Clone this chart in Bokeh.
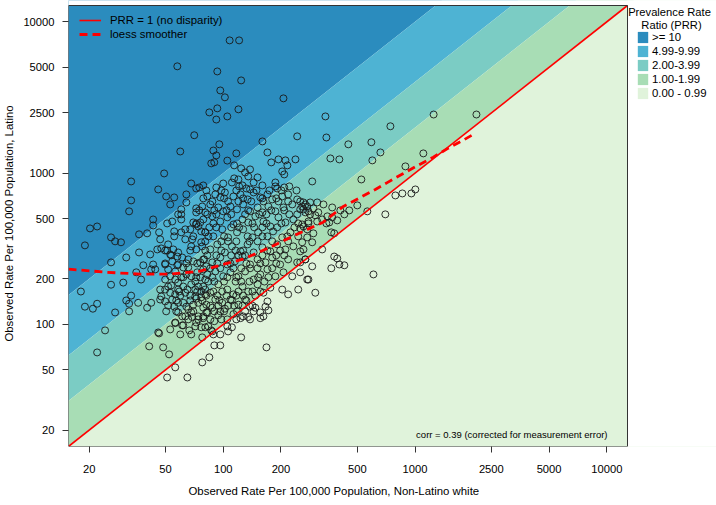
import math
from bokeh.plotting import figure
from bokeh.models import (Range1d, FixedTicker, NumeralTickFormatter, Legend,
                          LegendItem, Label, Title, BoxAnnotation)
from bokeh.embed import file_html
from bokeh.resources import INLINE

FONT = "Liberation Sans"

axis_min = 15.6
axis_max = 12820
tick_values = [20, 50, 100, 200, 500, 1000, 2500, 5000, 10000]

band_labels = [">= 10", "4.99-9.99", "2.00-3.99", "1.00-1.99", "0.00 - 0.99"]
band_ratio_low = [10, 4, 2, 1, 0.000001]
band_ratio_high = [1000000, 10, 4, 2, 1]
band_colors = ["#2b8cbe", "#4eb3d3", "#7bccc4", "#a8ddb5", "#e0f3db"]

rate_white = [
    108, 121, 57.6, 93.1, 124, 96.5, 102, 93.1, 84.6, 120, 92.0, 105, 70.6, 160, 95.4, 59.7,
    88.8, 92.0, 117, 105, 86.6, 89.8, 170, 114, 49.2, 33.1, 68.1, 78.7, 100, 72.3, 92.0, 124,
    138, 130, 135, 151, 120, 114, 144, 126, 121, 160, 132,
    206, 341, 243, 345, 744, 1250, 2090, 449, 592, 660, 1105, 891, 194, 211, 238, 178, 216,
    203, 208, 362, 403, 599, 291, 525, 187, 187, 221, 208, 1004,
    790, 859, 957, 700, 564, 500, 454, 428, 408, 370, 333, 309, 284, 268, 258, 262, 278, 295,
    268, 284, 302, 313, 349, 370, 357, 345, 393, 328, 309, 278, 262, 252, 295, 366, 379, 274,
    291, 258, 262, 328, 379, 393, 403, 428, 366, 268, 252, 291, 607, 278, 302,
    218, 170, 166, 172, 156, 162, 156, 127, 123, 124, 168, 89.8, 96.5, 84.6, 77.7, 111, 106,
    105, 96.5, 88.8, 87.7, 83.6, 89.8, 105, 113, 118, 96.5, 82.6, 77.7,
    50.4, 55.5, 33.1, 32.3, 64.2, 72.3, 72.3, 60.4, 60.4, 60.4, 80.6, 75.0, 43.1, 43.1, 51.0,
    20.2, 22.0, 40.1, 36.4, 46.3, 55.5, 55.5, 26.0, 27.3, 29.3, 19.0, 45.3, 47.5, 49.8, 51.0,
    52.9, 36.4, 31.2, 57.6, 53.5, 26.0, 43.1, 38.3, 58.2, 49.8, 42.1, 44.2, 57.6, 35.2, 30.1,
    26.0, 37.3, 18.1, 33.1, 19.0, 20.9, 22.0, 27.3, 31.2, 32.3, 32.3, 36.0, 40.1, 42.1, 24.2,
    22.0, 41.1, 46.3, 48.6, 52.2, 56.2, 51.0, 65.0, 52.9, 56.2, 61.1, 61.1, 66.5, 72.3, 68.9,
    86.6, 78.7, 45.8,
    46.9, 49.8, 51.6, 53.5, 52.9, 56.2, 58.2, 61.9, 63.4, 65.0, 68.1, 71.5, 74.1, 76.8, 80.6,
    67.3, 71.5, 76.8, 80.6, 46.9, 49.8, 51.6, 55.5, 58.2, 61.9, 64.2, 69.8, 74.1, 78.7, 81.6,
    58.2, 63.4, 68.1, 74.1, 78.7, 81.6, 56.2, 61.9, 65.7, 71.5, 76.8, 59.7, 68.1, 80.6, 73.2,
    78.7, 81.6, 68.1, 75.9, 80.6, 65.7, 69.8, 75.9, 79.6, 68.1, 72.3, 76.8, 68.9, 74.1, 76.8,
    80.6, 69.8, 72.3, 75.9, 60.4, 63.4, 51.6, 54.9, 58.2, 49.8, 52.9, 56.2, 60.4, 64.2, 51.6,
    56.2, 61.9, 47.5,
    111, 138, 191, 82.6, 90.9, 96.5, 102, 113, 123, 134, 144, 156, 170, 180, 203, 218, 243, 262,
    77.7, 85.6, 94.2, 100, 109, 118, 127, 138, 151, 160, 172, 187, 206, 229, 252, 274,
    78.7, 87.7, 96.5, 105, 113, 126, 135, 147, 162, 176, 194, 211, 232, 258, 278,
    80.6, 88.8, 98.8, 106, 118, 127, 142, 152, 170, 182, 203, 224, 246, 274,
    77.7, 85.6, 93.1, 102, 111, 123, 134, 144, 160, 176, 191, 211, 232, 252,
    78.7, 87.7, 96.5, 105, 115, 126, 138, 151, 166, 180, 198, 218, 243, 268,
    82.6, 90.9, 100, 109, 120, 130, 144, 156, 170, 187, 206, 229, 252,
    78.7, 85.6, 94.2, 105, 113, 126, 135, 151, 162, 176, 203, 246, 274,
    90.9, 98.8, 109, 120, 130, 138, 102, 87.7, 135, 147, 94.2,
    81.6, 97.7, 117, 149, 174, 201, 241,
    87.7, 106, 120, 140, 162, 194, 218, 252,
    82.6, 92.0, 110, 130, 154, 168, 221, 243,
    84.6, 92.0, 110, 121, 145, 160, 191, 235,
    80.6, 97.7, 106, 117, 137, 151, 180, 218,
    82.6, 92.0, 110, 120, 130, 160, 189, 208,
    85.6, 96.5, 113, 124, 138, 151, 180,
    83.6, 89.8, 101, 116, 124, 137, 164,
    81.6, 93.1, 104, 117, 127, 147,
    85.6, 94.2, 106, 114, 126, 142,
    54.2, 61.1, 65.7, 71.5, 59.7, 54.2, 65.7, 72.3, 50.4, 58.2,
    78.7, 101, 127, 160, 189,
    75.0, 89.8, 104, 135, 178, 208,
    72.3, 88.8, 118, 142, 168, 201, 246,
    69.8, 83.6, 101, 134, 160, 216,
    67.3, 80.6, 97.7, 116, 127, 170, 198,
    64.2, 73.2, 93.1, 109, 132, 156, 189,
    61.9, 72.3, 87.7, 105, 117, 152, 172,
    58.9, 73.2, 88.8, 98.8, 120, 142, 156,
    56.9, 67.3, 77.7, 95.4, 111, 132,
    56.9, 69.8, 89.8, 101, 130, 144,
    74.1, 85.6, 97.7, 117, 138,
    45.8, 52.9, 58.2, 46.9, 63.4, 41.6, 49.8, 67.3, 54.2, 64.2,
]
rate_latino = [
    7540, 7540, 5080, 4700, 4100, 3520, 3170, 2680, 2520, 2640, 2260, 2370, 1780, 1620, 1550, 1390,
    1410, 1310, 1350, 1210, 1160, 1180, 1370, 1125, 995, 881, 854, 829, 854, 792, 804, 1075,
    1058, 1010, 951, 937, 908, 923, 867, 829, 817, 829, 792,
    3120, 2370, 1750, 1720, 2040, 2440, 2440, 1550, 1600, 1370, 1350, 1108, 1232, 1214, 1232, 1177, 1125,
    1026, 980, 1251, 1232, 1214, 881, 908, 867, 817, 817, 804, 780,
    712, 734, 734, 534, 559, 612, 567, 534, 567, 593, 621, 640, 640, 621, 602, 576, 559, 585,
    550, 534, 526, 550, 518, 510, 472, 465, 487, 494, 479, 465, 444, 431, 400, 406, 400, 376,
    349, 349, 313, 313, 281, 273, 249, 246, 235, 269, 257, 242, 214, 198, 162,
    158, 142, 131, 124, 120, 113, 110, 113, 110, 82.1, 70.5, 72.7, 72.7, 60.6, 56.1, 95.7, 89.9,
    97.1, 85.9, 85.9, 89.9, 97.1, 105, 108, 117, 122, 122, 120, 82.1,
    701, 691, 660, 559, 640, 585, 550, 576, 534, 494, 550, 804, 494, 451, 465,
    431, 444, 400, 394, 406, 412, 382, 376, 354, 349, 333, 313, 318, 308, 308,
    290, 299, 277, 281, 286, 257, 249, 246, 249, 253, 231, 231, 246, 221, 189,
    183, 198, 165, 155, 131, 127, 137, 120, 144, 137, 122, 139, 129, 139, 91.3,
    65.3, 71.6, 87.2, 70.5, 63.4, 52.0, 44.6, 44.6, 92.7, 103, 113, 98.6, 91.3, 103, 112,
    91.3, 110, 88.5,
    170, 170, 178, 181, 162, 158, 170, 178, 162, 170, 184, 170, 178, 165, 170,
    155, 153, 151, 158, 146, 142, 133, 131, 139, 139, 131, 135, 139, 129, 135,
    120, 113, 120, 113, 113, 120, 102, 98.6, 108, 97.1, 95.7, 85.9, 85.9, 95.7, 221,
    231, 242, 208, 205, 198, 269, 261, 257, 269, 328, 313, 349, 365, 444, 412,
    406, 472, 458, 472, 406, 425, 338, 313, 299, 198, 208, 198, 205, 214, 231,
    224, 238, 153,
    867, 780, 792, 701, 723, 691, 745, 701, 723, 670, 745, 691, 723, 670, 701, 723, 670, 640,
    602, 621, 593, 559, 602, 576, 621, 559, 593, 550, 602, 559, 593, 621, 576, 602,
    494, 518, 479, 510, 458, 494, 472, 518, 479, 444, 510, 472, 494, 458, 479,
    406, 382, 425, 376, 406, 425, 376, 406, 382, 412, 376, 406, 382, 425,
    328, 313, 338, 299, 328, 304, 338, 299, 323, 304, 338, 313, 328, 304,
    269, 257, 277, 249, 261, 281, 249, 269, 257, 277, 249, 269, 257, 269,
    214, 224, 208, 221, 208, 224, 198, 214, 231, 208, 221, 208, 221,
    178, 162, 184, 170, 158, 178, 165, 184, 162, 175, 170, 170, 198,
    146, 139, 146, 135, 146, 131, 127, 129, 112, 129, 115,
    768, 768, 768, 768, 768, 768, 768,
    650, 650, 650, 650, 650, 650, 650, 650,
    534, 534, 534, 534, 534, 534, 534, 534,
    438, 438, 438, 438, 438, 438, 438, 438,
    354, 354, 354, 354, 354, 354, 354, 354,
    286, 286, 286, 286, 286, 286, 286, 286,
    235, 235, 235, 235, 235, 235, 235,
    192, 192, 192, 192, 192, 192, 192,
    155, 155, 155, 155, 155, 155,
    133, 133, 133, 133, 133, 133,
    261, 277, 238, 192, 155, 146, 126, 148, 122, 189,
    681, 681, 681, 681, 681,
    568, 568, 568, 568, 568, 568,
    465, 465, 465, 465, 465, 465, 465,
    382, 382, 382, 382, 382, 382,
    308, 308, 308, 308, 308, 308, 308,
    253, 253, 253, 253, 253, 253, 253,
    205, 205, 205, 205, 205, 205, 205,
    165, 165, 165, 165, 165, 165, 165,
    144, 144, 144, 144, 144, 144,
    122, 122, 122, 122, 122, 122,
    108, 108, 108, 108, 108,
    780, 621, 534, 365, 365, 290, 249, 425, 479, 723,
]

loess_white = [15.6, 24.8, 36.9, 53, 75.9, 93, 127, 176, 243, 332, 423, 519, 621, 720,
               869, 1040, 1245, 1492, 1787, 2064]
loess_latino = [232, 221, 215, 215, 225, 243, 270, 324, 395, 474, 602, 691, 780, 869,
                995, 1129, 1275, 1462, 1652, 1837]

# layout: plot box 559 x 441 px; the frame is widened to the right/top so that the
# legend and its heading (drawn inside the frame) are not clipped
W, H = 716, 505
LEFT, BOTTOM = 68, 59
BOX_W, BOX_H = 559, 441
FRAME_W, FRAME_H = W - LEFT, H - BOTTOM
span = math.log10(axis_max / axis_min)
x_hi = axis_min * 10 ** (span * FRAME_W / BOX_W)
y_hi = axis_min * 10 ** (span * FRAME_H / BOX_H)

p = figure(width=W, height=H, x_axis_type="log", y_axis_type="log",
           x_range=Range1d(axis_min, x_hi), y_range=Range1d(axis_min, y_hi),
           output_backend="svg", toolbar_location=None, title=None,
           min_border_left=LEFT, min_border_right=0, min_border_top=0,
           min_border_bottom=BOTTOM)
p.grid.visible = False
p.outline_line_color = None
p.background_fill_color = "white"
p.border_fill_color = "white"

x0, x1 = axis_min / 10, x_hi * 10
y0, y1 = axis_min / 10, y_hi * 10
band_items = []
for lab, lo, hi, col in zip(band_labels, band_ratio_low, band_ratio_high, band_colors):
    r = p.patch(x=[x0, x1, x1, x0], y=[lo * x0, lo * x1, hi * x1, hi * x0],
                fill_color=col, line_color=None)
    band_items.append(LegendItem(label=lab, renderers=[r]))

# white margins outside the plot box
p.quad(left=[axis_max, x0], right=[x1, x1], bottom=[y0, axis_max], top=[y1, y1],
       fill_color="white", line_color=None)

p.scatter(rate_white, rate_latino, marker="circle", size=7, fill_color=None,
          line_color="#1a1a1a", line_width=0.9)

eq = p.line([axis_min, axis_max], [axis_min, axis_max], line_color="red", line_width=1.6)
lo_r = p.line(loess_white, loess_latino, line_color="red", line_width=2.8, line_dash="8 5")

p.add_layout(BoxAnnotation(left=axis_min, right=axis_max, bottom=axis_min, top=axis_max,
                           fill_alpha=0, fill_color=None, line_color="#333333",
                           line_width=1, line_alpha=1))

for ax in (p.xaxis[0], p.yaxis[0]):
    ax.ticker = FixedTicker(ticks=tick_values, minor_ticks=[])
    ax.formatter = NumeralTickFormatter(format="0")
    ax.axis_line_color = None
    ax.major_tick_in = 0
    ax.major_tick_out = 6
    ax.minor_tick_in = 0
    ax.minor_tick_out = 0
    ax.major_tick_line_color = "#333333"
    ax.major_label_text_font = FONT
    ax.major_label_text_font_size = "11.2px"
    ax.major_label_text_color = "black"
p.yaxis.major_label_orientation = "horizontal"
p.yaxis.major_label_standoff = 8
p.xaxis.major_label_standoff = 12

p.yaxis.axis_label = "Observed Rate Per 100,000 Population, Latino"
p.yaxis.axis_label_standoff = 5
p.yaxis.axis_label_text_font = FONT
p.yaxis.axis_label_text_font_size = "11.4px"
p.yaxis.axis_label_text_font_style = "normal"
p.yaxis.axis_label_text_color = "black"

xt = Title(text="Observed Rate Per 100,000 Population, Non-Latino white", align="left",
           offset=120, standoff=14, text_font=FONT, text_font_size="11.4px",
           text_font_style="normal", text_color="black")
p.add_layout(xt, "below")

leg1 = Legend(items=[LegendItem(label="PRR = 1 (no disparity)", renderers=[eq]),
                     LegendItem(label="loess smoother", renderers=[lo_r])],
              location=(11, 405), orientation="vertical", padding=0, margin=0, spacing=0,
              glyph_width=22, glyph_height=14, label_height=14, label_standoff=9,
              label_text_font=FONT, label_text_font_size="11.4px", label_text_color="black",
              background_fill_alpha=0, border_line_color=None)
p.add_layout(leg1, "center")

leg2 = Legend(items=band_items, location=(568, 346), orientation="vertical",
              padding=0, margin=0, spacing=0, glyph_width=13, glyph_height=14,
              label_height=14, label_standoff=3,
              label_text_font=FONT, label_text_font_size="11.4px", label_text_color="black",
              background_fill_alpha=0, border_line_color=None)
p.add_layout(leg2, "center")

def add_label(x, y, text, size="11.4px", align="center"):
    p.add_layout(Label(x=x, y=y, x_units="screen", y_units="screen", text=text,
                       text_align=align, text_baseline="alphabetic",
                       text_font=FONT, text_font_size=size, text_color="black"))

add_label(601, 435, "Prevalence Rate", size="11.2px")
add_label(603, 422, "Ratio (PRR)", size="11.2px")
add_label(539, 12, "corr = 0.39 (corrected for measurement error)", size="9.5px", align="right")

open("out.html", "w").write(file_html(p, INLINE))
